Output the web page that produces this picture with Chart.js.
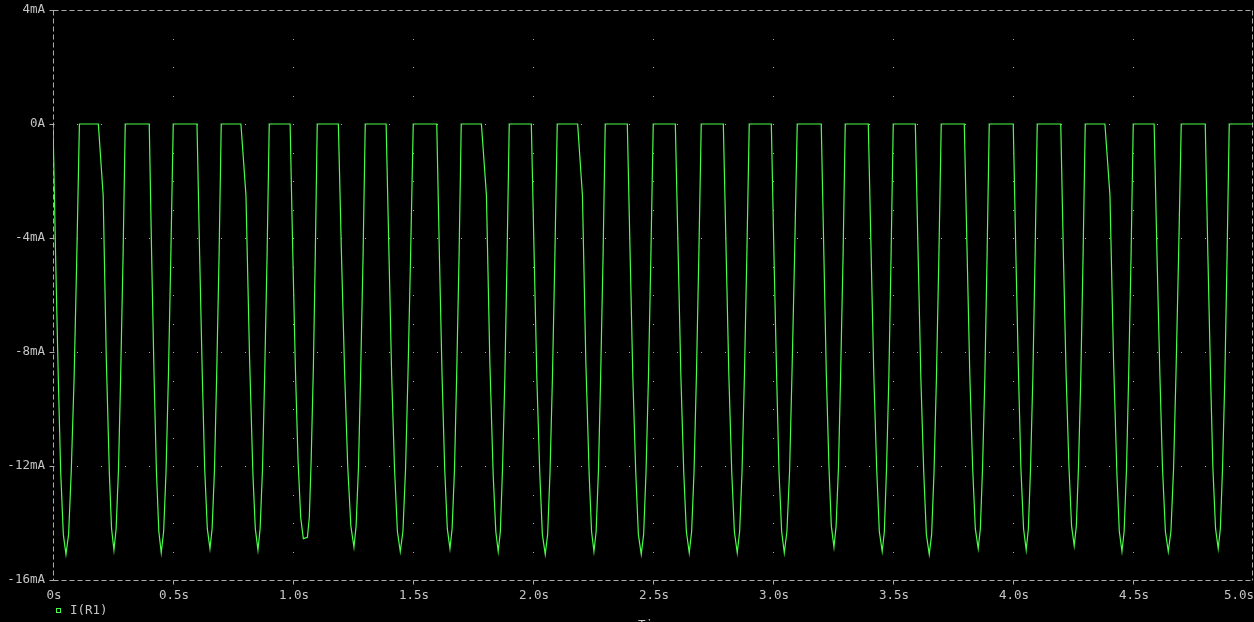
<!DOCTYPE html>
<html>
<head>
<meta charset="utf-8">
<script src="https://cdn.jsdelivr.net/npm/chart.js@4/dist/chart.umd.min.js"></script>
<style>
  html, body { margin: 0; padding: 0; background: #000; }
  #wrap { width: 1254px; height: 622px; position: relative; }
</style>
</head>
<body>
<div id="wrap"><canvas id="c" width="1254" height="622"></canvas></div>
<script>
// ---- data ----
const seriesName = 'I(R1)';
const xTitle = 'Time';
const xTickValues = [0, 0.5, 1.0, 1.5, 2.0, 2.5, 3.0, 3.5, 4.0, 4.5, 5.0];
const xTickLabels = ['0s', '0.5s', '1.0s', '1.5s', '2.0s', '2.5s', '3.0s', '3.5s', '4.0s', '4.5s', '5.0s'];
const yTickValues = [4, 0, -4, -8, -12, -16];
const yTickLabels = ['4mA', '0A', '-4mA', '-8mA', '-12mA', '-16mA'];

// time in seconds
const timeS = [
  0, 0.011, 0.022, 0.032, 0.043, 0.054, 0.065, 0.076, 0.088, 0.099, 0.110,
  0.189, 0.209, 0.222, 0.235, 0.244, 0.254, 0.263, 0.273, 0.282, 0.292, 0.301,
  0.401, 0.411, 0.421, 0.431, 0.441, 0.451, 0.461, 0.471, 0.481, 0.491, 0.501,
  0.600, 0.611, 0.622, 0.632, 0.643, 0.654, 0.663, 0.673, 0.682, 0.692, 0.701,
  0.783, 0.804, 0.819, 0.833, 0.843, 0.854, 0.863, 0.873, 0.882, 0.892, 0.901,
  0.988, 0.999, 1.010, 1.021, 1.032, 1.043, 1.060, 1.068, 1.076, 1.085, 1.093, 1.101,
  1.189, 1.202, 1.215, 1.228, 1.241, 1.254, 1.263, 1.273, 1.282, 1.292, 1.301,
  1.388, 1.400, 1.411, 1.423, 1.435, 1.447, 1.458, 1.469, 1.479, 1.490, 1.501,
  1.599, 1.610, 1.621, 1.632, 1.643, 1.654, 1.663, 1.673, 1.682, 1.692, 1.701,
  1.785, 1.806, 1.820, 1.834, 1.845, 1.855, 1.864, 1.873, 1.883, 1.892, 1.901,
  1.993, 2.005, 2.016, 2.028, 2.039, 2.051, 2.061, 2.071, 2.081, 2.091, 2.101,
  2.186, 2.206, 2.220, 2.234, 2.244, 2.254, 2.263, 2.273, 2.282, 2.292, 2.301,
  2.393, 2.405, 2.416, 2.428, 2.439, 2.451, 2.461, 2.471, 2.481, 2.491, 2.501,
  2.593, 2.605, 2.616, 2.628, 2.639, 2.651, 2.661, 2.671, 2.681, 2.691, 2.701,
  2.793, 2.805, 2.816, 2.828, 2.839, 2.851, 2.861, 2.871, 2.881, 2.891, 2.901,
  2.993, 3.004, 3.015, 3.025, 3.036, 3.047, 3.058, 3.069, 3.079, 3.090, 3.101,
  3.201, 3.212, 3.222, 3.233, 3.243, 3.254, 3.263, 3.273, 3.282, 3.292, 3.301,
  3.397, 3.409, 3.420, 3.432, 3.443, 3.455, 3.464, 3.473, 3.483, 3.492, 3.501,
  3.593, 3.605, 3.616, 3.628, 3.639, 3.651, 3.661, 3.671, 3.681, 3.691, 3.701,
  3.797, 3.809, 3.820, 3.832, 3.843, 3.855, 3.864, 3.873, 3.883, 3.892, 3.901,
  4.001, 4.012, 4.023, 4.033, 4.044, 4.055, 4.064, 4.073, 4.083, 4.092, 4.101,
  4.199, 4.210, 4.221, 4.233, 4.244, 4.255, 4.264, 4.273, 4.283, 4.292, 4.301,
  4.383, 4.404, 4.419, 4.433, 4.443, 4.454, 4.463, 4.473, 4.482, 4.492, 4.501,
  4.588, 4.600, 4.612, 4.623, 4.635, 4.647, 4.658, 4.669, 4.679, 4.690, 4.701,
  4.801, 4.812, 4.823, 4.833, 4.844, 4.855, 4.864, 4.873, 4.883, 4.892, 4.901,
  5.0
];

// current in mA
const currentMA = [
  0, -4.7, -8.9, -12.2, -14.4, -15.1, -14.4, -12.2, -8.9, -4.7, 0,
  0, -2.5, -8.2, -12.3, -14.2, -14.95, -14.2, -12.1, -8.8, -4.6, 0,
  0, -4.6, -8.8, -12.2, -14.3, -15.05, -14.3, -12.2, -8.8, -4.6, 0,
  0, -4.6, -8.8, -12.1, -14.2, -14.9, -14.2, -12.1, -8.8, -4.6, 0,
  0, -2.5, -8.2, -12.3, -14.2, -14.95, -14.2, -12.1, -8.8, -4.6, 0,
  0, -4.5, -8.6, -11.8, -13.8, -14.55, -14.5, -13.8, -11.7, -8.5, -4.5, 0,
  0, -4.6, -8.7, -12.0, -14.1, -14.85, -14.1, -12.0, -8.7, -4.6, 0,
  0, -4.6, -8.8, -12.1, -14.3, -15.0, -14.3, -12.1, -8.8, -4.6, 0,
  0, -4.6, -8.8, -12.1, -14.2, -14.9, -14.2, -12.1, -8.8, -4.6, 0,
  0, -2.5, -8.3, -12.3, -14.3, -15.0, -14.3, -12.1, -8.8, -4.6, 0,
  0, -4.7, -8.9, -12.2, -14.4, -15.1, -14.4, -12.2, -8.9, -4.7, 0,
  0, -2.5, -8.3, -12.3, -14.3, -15.0, -14.3, -12.1, -8.8, -4.6, 0,
  0, -4.7, -8.9, -12.2, -14.4, -15.1, -14.4, -12.2, -8.9, -4.7, 0,
  0, -4.6, -8.8, -12.2, -14.3, -15.05, -14.3, -12.2, -8.8, -4.6, 0,
  0, -4.6, -8.8, -12.2, -14.3, -15.05, -14.3, -12.2, -8.8, -4.6, 0,
  0, -4.6, -8.8, -12.2, -14.3, -15.05, -14.3, -12.2, -8.8, -4.6, 0,
  0, -4.6, -8.7, -12.0, -14.1, -14.85, -14.1, -12.0, -8.7, -4.6, 0,
  0, -4.6, -8.8, -12.1, -14.3, -15.0, -14.3, -12.1, -8.8, -4.6, 0,
  0, -4.7, -8.9, -12.2, -14.4, -15.1, -14.4, -12.2, -8.9, -4.7, 0,
  0, -4.6, -8.8, -12.1, -14.2, -14.9, -14.2, -12.1, -8.8, -4.6, 0,
  0, -4.6, -8.8, -12.1, -14.2, -14.95, -14.2, -12.1, -8.8, -4.6, 0,
  0, -4.6, -8.7, -12.0, -14.1, -14.8, -14.1, -12.0, -8.7, -4.6, 0,
  0, -2.5, -8.3, -12.3, -14.3, -15.0, -14.3, -12.1, -8.8, -4.6, 0,
  0, -4.6, -8.8, -12.1, -14.3, -15.0, -14.3, -12.1, -8.8, -4.6, 0,
  0, -4.6, -8.8, -12.1, -14.2, -14.9, -14.2, -12.1, -8.8, -4.6, 0,
  0
];

// ---- styling ----
const GREEN = 'rgb(72,255,72)';
const TEXT_GRAY = 'rgb(196,196,196)';
const LINE_GRAY = 'rgb(170,170,170)';
const FONT_FAMILY = '"DejaVu Sans Mono", "Liberation Mono", monospace';
const FONT_SIZE = 12.5;

const pspicePlugin = {
  id: 'pspice',
  beforeDatasetsDraw(chart) {
    const ctx = chart.ctx;
    const a = chart.chartArea;
    const xs = chart.scales.x, ys = chart.scales.y;
    ctx.save();
    // grid dots: vertical grid lines at major x ticks, dots every 1 mA
    ctx.fillStyle = LINE_GRAY;
    for (let i = 1; i < xTickValues.length - 1; i++) {
      const px = Math.round(xs.getPixelForValue(xTickValues[i]));
      for (let m = -15; m <= 3; m++) {
        const py = Math.round(ys.getPixelForValue(m));
        ctx.fillRect(px, py, 1, 1);
      }
    }
    // horizontal grid lines at major y ticks, dots every 0.1 s
    for (let j = 1; j < yTickValues.length - 1; j++) {
      const py = Math.round(ys.getPixelForValue(yTickValues[j]));
      for (let k = 1; k < 50; k++) {
        const px = Math.round(xs.getPixelForValue(k / 10));
        ctx.fillRect(px, py, 1, 1);
      }
    }
    // dashed frame
    ctx.strokeStyle = LINE_GRAY;
    ctx.lineWidth = 1;
    ctx.setLineDash([5, 3]);
    const L = Math.round(a.left) + 0.5, R = Math.round(a.right) - 0.5;
    const T = Math.round(a.top) + 0.5, B = Math.round(a.bottom) + 0.5;
    ctx.beginPath();
    ctx.moveTo(L, T); ctx.lineTo(R, T);
    ctx.moveTo(L, B); ctx.lineTo(R, B);
    ctx.moveTo(L, T); ctx.lineTo(L, B);
    ctx.moveTo(R, T); ctx.lineTo(R, B);
    ctx.stroke();
    // tick marks
    ctx.setLineDash([]);
    ctx.beginPath();
    for (let i = 1; i < xTickValues.length - 1; i++) {
      const px = Math.round(xs.getPixelForValue(xTickValues[i])) + 0.5;
      ctx.moveTo(px, B); ctx.lineTo(px, B + 4);
    }
    for (let j = 0; j < yTickValues.length; j++) {
      const py = Math.round(ys.getPixelForValue(yTickValues[j])) + 0.5;
      ctx.moveTo(L - 4, py); ctx.lineTo(L + 1, py);
    }
    ctx.stroke();
    ctx.restore();
  },
  afterDraw(chart) {
    const ctx = chart.ctx;
    const a = chart.chartArea;
    const xs = chart.scales.x;
    const W = chart.width;
    ctx.save();
    ctx.font = FONT_SIZE + 'px ' + FONT_FAMILY;
    ctx.fillStyle = TEXT_GRAY;
    ctx.textBaseline = 'middle';
    // x tick labels (kept inside the canvas like the reference)
    for (let i = 0; i < xTickValues.length; i++) {
      const px = xs.getPixelForValue(xTickValues[i]);
      const w = ctx.measureText(xTickLabels[i]).width;
      let left = px - w / 2 + 1;
      if (left + w > W) left = W - w;
      ctx.textAlign = 'left';
      ctx.fillText(xTickLabels[i], left, a.bottom + 16);
    }
    // legend
    ctx.strokeStyle = GREEN;
    ctx.lineWidth = 1;
    ctx.strokeRect(56.5, 608.5, 4, 4);
    ctx.fillStyle = TEXT_GRAY;
    ctx.textAlign = 'left';
    ctx.fillText(seriesName, 70, 611);
    // x axis title (mostly below the visible area)
    ctx.textAlign = 'center';
    ctx.textBaseline = 'top';
    ctx.fillText(xTitle, (a.left + a.right) / 2, 619);
    ctx.restore();
  }
};

const chart = new Chart(document.getElementById('c'), {
  type: 'line',
  data: {
    datasets: [{
      label: seriesName,
      data: timeS.map((t, i) => ({ x: t, y: currentMA[i] })),
      borderColor: GREEN,
      backgroundColor: GREEN,
      borderWidth: 1.2,
      pointRadius: 0,
      tension: 0,
      fill: false
    }]
  },
  options: {
    responsive: false,
    animation: false,
    devicePixelRatio: 1,
    layout: { padding: { top: 10, right: 1, bottom: 0, left: 0 } },
    plugins: {
      legend: { display: false },
      tooltip: { enabled: false },
      title: { display: false }
    },
    scales: {
      x: {
        type: 'linear',
        min: 0, max: 5,
        ticks: { display: false, stepSize: 0.5 },
        grid: { display: false, drawTicks: false },
        border: { display: false },
        afterFit(scale) { scale.height = 42; scale.paddingLeft = 0; scale.paddingRight = 0; }
      },
      y: {
        type: 'linear',
        min: -16, max: 4,
        ticks: {
          stepSize: 4,
          color: TEXT_GRAY,
          padding: 8,
          font: { family: FONT_FAMILY, size: FONT_SIZE },
          callback: (v) => {
            const idx = yTickValues.indexOf(v);
            return idx >= 0 ? yTickLabels[idx] : '';
          }
        },
        grid: { display: false, drawTicks: false },
        border: { display: false },
        afterFit(scale) { scale.width = 53; scale.paddingTop = 0; scale.paddingBottom = 0; }
      }
    }
  },
  plugins: [pspicePlugin]
});
</script>
</body>
</html>
